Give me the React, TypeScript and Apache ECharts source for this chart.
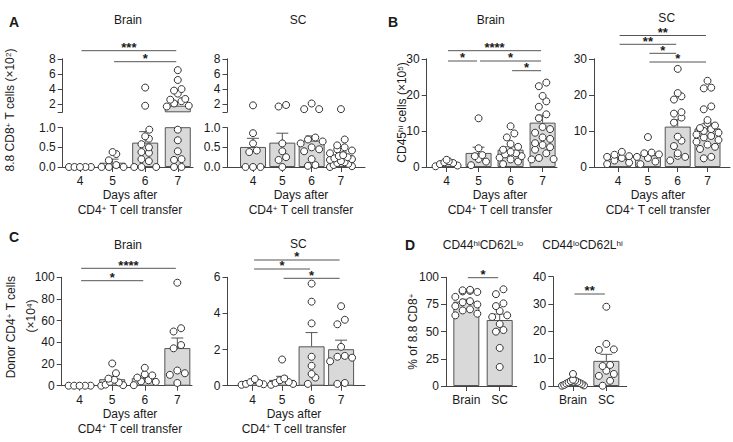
import React, { useEffect, useRef } from 'react';
import * as echarts from 'echarts';

const FONT = '"Liberation Sans", Arial, Helvetica, sans-serif';
const INK = '#1a1a1a';
const AXIS = '#444';
const BAR_FILL = '#d9d9d9';
const BAR_EDGE = '#555';
const DOT_EDGE = '#333';

// ---------- categories ----------
const DAYS = [4, 5, 6, 7];
const SITES = ['Brain', 'SC'];
const SITE_X = [1, 2];

// ---------- Panel A: 8.8 CD8+ T cells (x10^2) ----------
const aBrainPoints = [
  [0, 0, 0, 0, 0],
  [0.38, 0.33, 0.17, 0.05, 0, 0, 0],
  [4.2, 1.8, 0.95, 0.78, 0.72, 0.58, 0.5, 0.38, 0.36, 0.2, 0.15, 0, 0, 0],
  [6.5, 5.2, 4.0, 3.8, 3.4, 2.7, 2.6, 2.4, 2.1, 1.8, 1.7, 0.95, 0.68, 0.4, 0.2, 0.18, 0, 0],
];
const aBrainMean = [0, 0.11, 0.62, 1.8];
const aBrainSem = [0, 0.09, 0.28, 0.55];

const aScPoints = [
  [1.85, 0.86, 0.6, 0.42, 0.38, 0, 0, 0],
  [1.9, 1.7, 0.6, 0.4, 0.25, 0.18, 0],
  [2.1, 1.35, 1.35, 0.75, 0.7, 0.65, 0.6, 0.5, 0.45, 0.4, 0.2, 0.05, 0.03],
  [1.35, 0.7, 0.55, 0.5, 0.45, 0.42, 0.35, 0.3, 0.28, 0.25, 0.22, 0.2, 0.18, 0.15, 0.12, 0.1, 0.08, 0.05, 0.02, 0],
];
const aScMean = [0.51, 0.62, 0.67, 0.29];
const aScSem = [0.22, 0.24, 0.12, 0.09];

// ---------- Panel B: CD45hi cells (x10^5) ----------
const bBrainPoints = [
  [2.0, 1.6, 1.3, 1.1, 0.8, 0.4, 0.2],
  [13.5, 5.2, 3.3, 3.0, 2.2, 1.5, 0.5],
  [11.3, 9.3, 8.2, 6.4, 5.6, 4.8, 4.2, 3.8, 3.5, 3.0, 2.6, 2.1, 1.5, 0.8],
  [23.4, 22.4, 19.7, 18.2, 16.7, 14.6, 13.5, 11.1, 10.5, 9.5, 8.2, 7.8, 6.6, 6.1, 5.5, 4.8, 3.8, 2.5, 2.2, 2.1],
];
const bBrainMean = [1.0, 3.9, 4.8, 12.3];
const bBrainSem = [0.25, 1.6, 0.8, 2.1];

const bScPoints = [
  [4.2, 3.4, 3.0, 2.8, 2.5, 1.8, 1.2, 0.8],
  [8.3, 4.0, 3.8, 3.5, 2.8, 2.5, 1.5, 0.8],
  [27.2, 20.5, 19.6, 18.7, 15.2, 14.8, 13.7, 12.3, 8.4, 7.3, 5.8, 3.8, 3.1, 2.8, 1.8],
  [23.9, 22.0, 21.8, 16.8, 16.0, 13.0, 12.2, 11.5, 10.8, 10.5, 10.0, 9.5, 9.0, 8.6, 8.2, 7.5, 7.0, 6.2, 5.6, 5.0, 2.8, 2.4],
];
const bScMean = [2.2, 3.3, 11.2, 10.7];
const bScSem = [0.4, 0.8, 1.9, 1.3];

// ---------- Panel C: Donor CD4+ T cells (x10^4) ----------
const cBrainPoints = [
  [0, 0, 0, 0, 0],
  [20.5, 11.5, 6.5, 5.5, 3.5, 3, 1, 0.5, 0],
  [16.5, 10.5, 9.5, 7.5, 5, 4, 3.5, 0.5],
  [95, 53, 50, 37.5, 34.5, 14, 11.5, 10, 2.5],
];
const cBrainMean = [0, 6, 7, 34.7];
const cBrainSem = [0, 2.8, 2, 9.3];

const cScPoints = [
  [0.37, 0.2, 0.15, 0.1, 0.08, 0.05],
  [1.45, 0.4, 0.3, 0.2, 0.15, 0.1, 0.05],
  [5.65, 4.65, 3.45, 1.6, 1.1, 0.65, 0.45, 0.1],
  [4.4, 3.65, 3.4, 2.15, 1.65, 1.6, 1.55, 1.35, 0.15, 0.1],
];
const cScMean = [0.16, 0.32, 2.18, 2.02];
const cScSem = [0.05, 0.2, 0.76, 0.5];

// ---------- Panel D: % of 8.8 CD8+ ----------
const dHiPoints = [
  [88.5, 88, 87.5, 87, 86.5, 82, 78, 77, 75, 73.5, 70.5, 69.5, 66.5, 65],
  [89, 84.5, 76, 73.5, 69, 65, 63.5, 57, 51.5, 50, 35, 17.5],
];
const dHiMean = [77.6, 60.7];
const dHiSem = [2.2, 5.5];

const dLoPoints = [
  [4.4, 2.3, 2.0, 1.8, 1.5, 1.3, 1.1, 0.9, 0.7, 0.4, 0.2, 0.1],
  [29, 15.4, 13.4, 13.2, 7.7, 7.3, 5.6, 4.4, 3.7, 1.9, 0.1],
];
const dLoMean = [1.4, 9.2];
const dLoSem = [0.35, 2.4];

// ---------- significance comparisons ----------
const aBrainSig: [number, number, string][] = [[4, 7, '***'], [5, 7, '*']];
const bBrainSig: [number, number, string][] = [[4, 7, '****'], [4, 5, '*'], [5, 7, '*'], [6, 7, '*']];
const bScSig: [number, number, string][] = [[4, 7, '**'], [4, 6, '**'], [5, 6, '*'], [5, 7, '*']];
const cBrainSig: [number, number, string][] = [[4, 7, '****'], [4, 6, '*']];
const cScSig: [number, number, string][] = [[4, 7, '*'], [4, 6, '*'], [5, 7, '*']];
const dHiSig: [number, number, string][] = [[1, 2, '*']];
const dLoSig: [number, number, string][] = [[1, 2, '**']];

// ---------- tick labels ----------
const A_HI_TICKS = [1, 2, 4, 6, 8];
const A_HI_LABELS = [2, 4, 6, 8];
const A_LO_TICKS = [0, 0.5, 1];
const B_TICKS = [0, 10, 20, 30];
const C_BRAIN_TICKS = [0, 20, 40, 60, 80, 100];
const C_SC_TICKS = [0, 2, 4, 6];
const D_HI_TICKS = [0, 25, 50, 75, 100];
const D_LO_TICKS = [0, 10, 20, 30, 40];

type Panel = {
  rect: [number, number, number, number];
  x: [number, number];
  y: [number, number];
  yTicks: number[];
  yLabels: number[];
  yFmt: (v: number) => string;
  cats: number[];
  xFmt: (v: number) => string;
  showX: boolean;
  points: number[][];
  mean: number[];
  sem: number[];
  keep: (v: number) => boolean;
  sig?: [number, number, string][];
  sigY?: number[];
};

const intFmt = (v: number) => String(v);
const dayFmt = (v: number) => String(v);
const siteFmt = (v: number) => SITES[SITE_X.indexOf(v)] ?? '';
const all = () => true;

const panels: Panel[] = [
  // A brain upper / lower
  { rect: [62.7, 58.8, 130.4, 53], x: [3.47, 7.47], y: [1, 8], yTicks: A_HI_TICKS, yLabels: A_HI_LABELS, yFmt: intFmt,
    cats: DAYS, xFmt: dayFmt, showX: false, points: aBrainPoints, mean: aBrainMean, sem: aBrainSem, keep: (v) => v > 1,
    sig: aBrainSig, sigY: [50.7, 61.7] },
  { rect: [62.7, 127.7, 130.4, 39.3], x: [3.47, 7.47], y: [0, 1], yTicks: A_LO_TICKS, yLabels: A_LO_TICKS, yFmt: (v) => v.toFixed(1),
    cats: DAYS, xFmt: dayFmt, showX: true, points: aBrainPoints, mean: aBrainMean, sem: aBrainSem, keep: (v) => v <= 1 },
  // A SC upper / lower
  { rect: [227.5, 58.8, 137.5, 53], x: [3.13, 7.82], y: [1, 8], yTicks: A_HI_TICKS, yLabels: A_HI_LABELS, yFmt: intFmt,
    cats: DAYS, xFmt: dayFmt, showX: false, points: aScPoints, mean: aScMean, sem: aScSem, keep: (v) => v > 1 },
  { rect: [227.5, 127.7, 137.5, 39.3], x: [3.13, 7.82], y: [0, 1], yTicks: A_LO_TICKS, yLabels: A_LO_TICKS, yFmt: (v) => v.toFixed(1),
    cats: DAYS, xFmt: dayFmt, showX: true, points: aScPoints, mean: aScMean, sem: aScSem, keep: (v) => v <= 1 },
  // B
  { rect: [426.7, 58.8, 130.3, 108.2], x: [3.38, 7.45], y: [0, 30], yTicks: B_TICKS, yLabels: B_TICKS, yFmt: intFmt,
    cats: DAYS, xFmt: dayFmt, showX: true, points: bBrainPoints, mean: bBrainMean, sem: bBrainSem, keep: all,
    sig: bBrainSig, sigY: [50.7, 61, 61, 70.7] },
  { rect: [594, 58.8, 136, 108.2], x: [3.19, 7.755], y: [0, 30], yTicks: B_TICKS, yLabels: B_TICKS, yFmt: intFmt,
    cats: DAYS, xFmt: dayFmt, showX: true, points: bScPoints, mean: bScMean, sem: bScSem, keep: all,
    sig: bScSig, sigY: [35.5, 44.3, 53.3, 62] },
  // C
  { rect: [61.7, 277.3, 130.3, 108.4], x: [3.45, 7.45], y: [0, 100], yTicks: C_BRAIN_TICKS, yLabels: C_BRAIN_TICKS, yFmt: intFmt,
    cats: DAYS, xFmt: dayFmt, showX: true, points: cBrainPoints, mean: cBrainMean, sem: cBrainSem, keep: all,
    sig: cBrainSig, sigY: [268.3, 280.7] },
  { rect: [227.5, 277.3, 137.5, 108.4], x: [3.15, 7.81], y: [0, 6], yTicks: C_SC_TICKS, yLabels: C_SC_TICKS, yFmt: intFmt,
    cats: DAYS, xFmt: dayFmt, showX: true, points: cScPoints, mean: cScMean, sem: cScSem, keep: all,
    sig: cScSig, sigY: [260, 269, 278.3] },
  // D
  { rect: [446, 277.3, 70.7, 108.7], x: [0.39, 2.51], y: [0, 100], yTicks: D_HI_TICKS, yLabels: D_HI_TICKS, yFmt: intFmt,
    cats: SITE_X, xFmt: siteFmt, showX: true, points: dHiPoints, mean: dHiMean, sem: dHiSem, keep: all,
    sig: dHiSig, sigY: [277.7] },
  { rect: [553.3, 276.7, 73.4, 109.3], x: [0.41, 2.61], y: [0, 40], yTicks: D_LO_TICKS, yLabels: D_LO_TICKS, yFmt: intFmt,
    cats: SITE_X, xFmt: siteFmt, showX: true, points: dLoPoints, mean: dLoMean, sem: dLoSem, keep: all,
    sig: dLoSig, sigY: [294] },
];

const DOT = 7;
const MAX_HALF_SPREAD = 11; // px: horizontal spread limit of a column of dots

// Scatter-column layout: dots that sit at nearly the same height form a row,
// and a row is spread evenly around the category centre (overlapping when crowded).
function swarm(values: number[], center: number, pxPerX: number, pxPerY: number): number[][] {
  const d = DOT + 0.5;
  const sorted = values.slice().sort((a, b) => a - b);
  const rows: number[][] = [];
  let cur: number[] = [];
  let startPy = 0;
  for (const v of sorted) {
    const py = v * pxPerY;
    if (cur.length && py - startPy < d * 0.85) cur.push(v);
    else {
      if (cur.length) rows.push(cur);
      cur = [v];
      startPy = py;
    }
  }
  if (cur.length) rows.push(cur);
  const out: number[][] = [];
  rows.forEach((row, r) => {
    const n = row.length;
    const step = n > 1 ? Math.min(d, (2 * MAX_HALF_SPREAD) / (n - 1)) : 0;
    const order: number[] = [];
    for (let k = 0; k < n; k++) order.push(k % 2 === 0 ? k / 2 : n - 1 - (k - 1) / 2);
    row.forEach((v, k) => {
      const slot = order[k];
      let dx = (slot - (n - 1) / 2) * step;
      if (n === 1 && r > 0 && rows[r - 1].length === 1) {
        const prevPy = rows[r - 1][0] * pxPerY;
        if (v * pxPerY - prevPy < d) dx = (r % 2 ? 1 : -1) * d * 0.55;
      }
      out.push([center + dx / pxPerX, v]);
    });
  });
  return out;
}

const RICH = {
  sup: { fontSize: 8, fontFamily: FONT, fill: INK, color: INK, verticalAlign: 'top' as const },
};

function label(x: number, y: number, text: string, extra: any = {}, rotate = false) {
  return {
    type: 'text',
    x,
    y,
    rotation: rotate ? Math.PI / 2 : 0,
    silent: true,
    style: {
      text,
      fill: INK,
      fontSize: 12,
      fontFamily: FONT,
      align: 'center',
      verticalAlign: 'middle',
      rich: RICH,
      ...extra,
    },
  };
}

function buildOption() {
  const grid: any[] = [];
  const xAxis: any[] = [];
  const yAxis: any[] = [];
  const series: any[] = [];

  panels.forEach((p, i) => {
    const [left, top, width, height] = p.rect;
    grid.push({ left, top, width, height, containLabel: false });
    xAxis.push({
      type: 'value',
      gridIndex: i,
      min: p.x[0],
      max: p.x[1],
      show: p.showX,
      axisLine: { show: true, onZero: false, lineStyle: { color: AXIS, width: 1 } },
      axisTick: { show: true, customValues: p.cats, length: 5, lineStyle: { color: AXIS, width: 1 } },
      axisLabel: { show: true, customValues: p.cats, formatter: p.xFmt, color: INK, fontSize: 12, fontFamily: FONT, margin: 8 },
      splitLine: { show: false },
    });
    yAxis.push({
      type: 'value',
      gridIndex: i,
      min: p.y[0],
      max: p.y[1],
      axisLine: { show: true, onZero: false, lineStyle: { color: AXIS, width: 1 } },
      axisTick: { show: true, customValues: p.yTicks, length: 5, lineStyle: { color: AXIS, width: 1 } },
      axisLabel: { show: true, customValues: p.yLabels, formatter: p.yFmt, color: INK, fontSize: 12, fontFamily: FONT, margin: 7 },
      splitLine: { show: false },
    });

    const pxPerX = width / (p.x[1] - p.x[0]);
    const pxPerY = height / (p.y[1] - p.y[0]);

    series.push({
      type: 'bar',
      xAxisIndex: i,
      yAxisIndex: i,
      barWidth: 26,
      clip: true,
      silent: true,
      z: 2,
      itemStyle: { color: BAR_FILL, borderColor: BAR_EDGE, borderWidth: 1 },
      data: p.cats.map((c, j) => [c, p.mean[j]]),
    });

    series.push({
      type: 'custom',
      xAxisIndex: i,
      yAxisIndex: i,
      clip: true,
      silent: true,
      z: 3,
      data: p.cats.map((c, j) => [c, p.mean[j], p.mean[j] + p.sem[j]]),
      renderItem: (_params: any, api: any) => {
        const x = api.value(0);
        const m = api.value(1);
        const t = api.value(2);
        if (!(t > m)) return null;
        const a = api.coord([x, m]);
        const b = api.coord([x, t]);
        return {
          type: 'group',
          children: [
            { type: 'line', shape: { x1: a[0], y1: a[1], x2: b[0], y2: b[1] }, style: { stroke: BAR_EDGE, lineWidth: 1 } },
            { type: 'line', shape: { x1: b[0] - 6, y1: b[1], x2: b[0] + 6, y2: b[1] }, style: { stroke: BAR_EDGE, lineWidth: 1 } },
          ],
        };
      },
    });

    const pts: number[][] = [];
    p.points.forEach((vals, j) => {
      const kept = vals.filter(p.keep);
      const sw = swarm(kept, p.cats[j], pxPerX, pxPerY);
      sw.forEach((q) => pts.push(q));
    });
    series.push({
      type: 'scatter',
      xAxisIndex: i,
      yAxisIndex: i,
      clip: false,
      silent: true,
      z: 4,
      symbol: 'circle',
      symbolSize: DOT,
      itemStyle: { color: '#ffffff', borderColor: DOT_EDGE, borderWidth: 1, opacity: 1 },
      data: pts,
    });

    if (p.sig && p.sigY) {
      const sig = p.sig;
      const sigY = p.sigY;
      series.push({
        type: 'custom',
        xAxisIndex: i,
        yAxisIndex: i,
        clip: false,
        silent: true,
        z: 5,
        data: sig.map((s) => [s[0], s[1]]),
        renderItem: (params: any, api: any) => {
          const j = params.dataIndex;
          const x1 = api.coord([api.value(0), p.y[0]])[0] + 1.5;
          const x2 = api.coord([api.value(1), p.y[0]])[0] - 1.5;
          const y = sigY[j];
          return {
            type: 'group',
            children: [
              { type: 'line', shape: { x1, y1: y, x2, y2: y }, style: { stroke: '#555', lineWidth: 1 } },
              {
                type: 'text',
                x: (x1 + x2) / 2,
                y: y - 3.2,
                style: { text: sig[j][2], fill: INK, fontSize: 13, fontWeight: 'bold', fontFamily: FONT, align: 'center', verticalAlign: 'middle' },
              },
            ],
          };
        },
      });
    }
  });

  const bold = { fontSize: 14, fontWeight: 'bold', align: 'left' };
  const xTitle = (cx: number, axisY: number) => [
    label(cx, axisY + 28, 'Days after'),
    label(cx, axisY + 43, 'CD4{sup|+} T cell transfer'),
  ];

  const graphic: any[] = [
    label(9, 21.5, 'A', bold),
    label(388, 21.5, 'B', bold),
    label(9, 237, 'C', bold),
    label(405, 244.5, 'D', bold),
    label(128, 20, 'Brain'),
    label(298, 20, 'SC'),
    label(490.7, 20, 'Brain'),
    label(666.7, 17.5, 'SC'),
    label(128, 245, 'Brain'),
    label(298.3, 243.5, 'SC'),
    label(483, 245, 'CD44{sup|hi}CD62L{sup|lo}'),
    label(582.5, 245, 'CD44{sup|lo}CD62L{sup|hi}'),
    ...xTitle(130, 167),
    ...xTitle(301, 167),
    ...xTitle(500, 167),
    ...xTitle(658, 167),
    ...xTitle(130, 385.7),
    ...xTitle(294, 385.7),
    label(10, 110, '8.8 CD8{sup|+} T cells (×10{sup|2})', {}, true),
    label(402, 112.5, 'CD45{sup|hi} cells (×10{sup|5})', {}, true),
    label(11, 327, 'Donor CD4{sup|+} T cells', {}, true),
    label(31, 316, '(×10{sup|4})', {}, true),
    label(413.3, 331.7, '% of 8.8 CD8{sup|+}', {}, true),
  ];

  return {
    animation: false,
    backgroundColor: '#ffffff',
    textStyle: { fontFamily: FONT },
    grid,
    xAxis,
    yAxis,
    series,
    graphic,
  };
}

export default function App() {
  const ref = useRef<HTMLDivElement>(null);
  useEffect(() => {
    if (!ref.current) return;
    const chart = echarts.init(ref.current, undefined, { renderer: 'svg' });
    chart.setOption(buildOption() as any);
    return () => {
      chart.dispose();
    };
  }, []);
  return (
    <div
      ref={ref}
      style={{ position: 'fixed', left: 0, top: 0, width: 733, height: 442, background: '#ffffff' }}
    />
  );
}
